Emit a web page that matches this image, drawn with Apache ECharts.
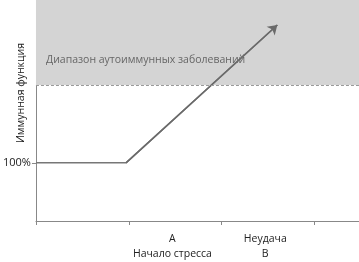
<!DOCTYPE html>
<html><head><meta charset="utf-8">
<script src="https://cdn.jsdelivr.net/npm/echarts@6/dist/echarts.min.js"></script>
<style>html,body{margin:0;padding:0;background:#fff}#c{width:359px;height:262px}</style>
</head><body><div id="c"></div>
<script>
// data
const curveX = [0, 0.97, 2.6];
const curveY = [100, 100, 337];
const bandRange = [234, 380];
const bandLabel = 'Диапазон аутоиммунных заболеваний';
const yTitle = 'Иммунная функция';
const yTickValues = [100];
const yTickLabels = ['100%'];
const xTickValues = [0, 1, 2, 3];
const xLabelValues = [1.47, 2.47];
const xLabels = ['A\nНачало стресса', 'Неудача\nB'];
const xMax = 3.48;

const font = 'Open Sans';
const chart = echarts.init(document.getElementById('c'), null, {renderer: 'canvas'});
const pts = curveX.map((x, i) => [x, curveY[i]]);
chart.setOption({
  animation: false,
  grid: {left: 33.3, right: 0, top: 0, bottom: 40.3},
  xAxis: {
    type: 'value', min: 0, max: xMax,
    axisLine: {lineStyle: {color: '#888', width: 1}},
    axisTick: {customValues: xTickValues, length: 4, lineStyle: {color: '#888'}},
    axisLabel: {
      customValues: xLabelValues,
      formatter: v => { const i = xLabelValues.findIndex(a => Math.abs(a - v) < 1e-6); return i >= 0 ? xLabels[i] : ''; },
      color: '#222', fontFamily: font, fontSize: 10.5, lineHeight: 15, margin: 11
    },
    splitLine: {show: false}
  },
  yAxis: {
    type: 'value', min: 0, max: 380,
    axisLine: {show: true, lineStyle: {color: '#888', width: 1}},
    axisTick: {show: true, customValues: yTickValues, length: 4, lineStyle: {color: '#888'}},
    axisLabel: {
      customValues: yTickValues,
      formatter: v => { const i = yTickValues.indexOf(v); return i >= 0 ? yTickLabels[i] : ''; },
      color: '#222', fontFamily: font, fontSize: 11, margin: 5
    },
    splitLine: {show: false}
  },
  graphic: [{
    type: 'text', x: 21, y: 93, rotation: Math.PI / 2,
    style: {text: yTitle, fill: '#222', font: '10.5px "' + font + '"', align: 'center', verticalAlign: 'middle'}
  }],
  series: [{
    type: 'line', data: pts, showSymbol: false, symbol: 'none',
    lineStyle: {color: '#777', width: 1.5},
    markArea: {
      silent: true,
      itemStyle: {color: '#d4d4d4'},
      label: {show: true, position: 'insideBottomLeft', distance: 10, offset: [0, -9], color: '#666', fontFamily: font, fontSize: 10.5},
      data: [[{yAxis: bandRange[0], name: bandLabel}, {yAxis: bandRange[1]}]]
    },
    markLine: {
      silent: true, animation: false,
      label: {show: false},
      data: [
        [{coord: pts[1], symbol: 'none', lineStyle: {color: '#6a6a6a', width: 1.5, type: 'solid'}},
         {coord: pts[2], symbol: 'arrow', symbolSize: 9}],
        [{coord: [0, bandRange[0]], symbol: 'none', lineStyle: {color: '#999', type: [3, 2], width: 1}},
         {coord: [xMax, bandRange[0]], symbol: 'none'}]
      ]
    },
    z: 3
  }]
});
</script></body></html>
